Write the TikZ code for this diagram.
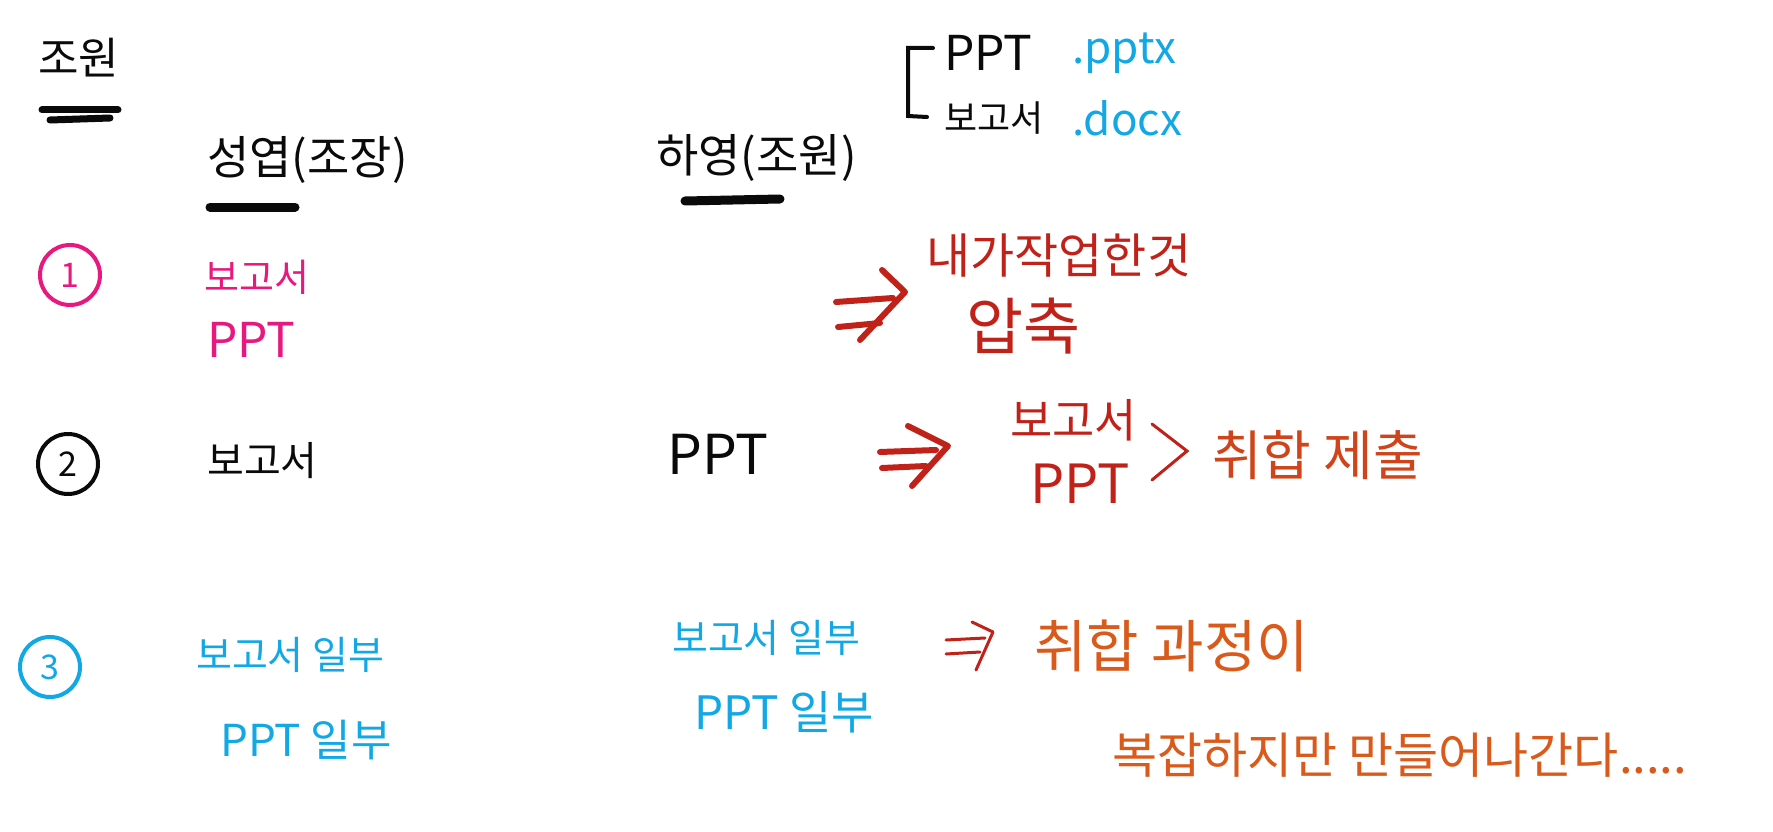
\documentclass[tikz,border=0pt]{standalone}
\usepackage{fontspec}
\setmainfont{Noto Sans CJK KR}
\usetikzlibrary{arrows.meta,calc}
\definecolor{inkblack}{HTML}{0A0A0A}
\definecolor{inkpink}{HTML}{E8197E}
\definecolor{inkred}{HTML}{C0221A}
\definecolor{inkorange}{HTML}{D95A1A}
\definecolor{inkblue}{HTML}{12A8E6}
\tikzset{
  txt/.style={anchor=west, inner sep=0pt, font=\fontsize{#1}{#1}\selectfont},
  numcircle/.style={circle, draw, line width=4pt, minimum size=60pt, inner sep=0pt, font=\fontsize{34}{34}\selectfont},
  uline/.style={line width=7pt, line cap=round, inkblack},
  dblarrow/.style={line width=6pt, line cap=round, line join=round},
  thinarrow/.style={line width=3pt, line cap=round, line join=round},
}
\begin{document}
\begin{tikzpicture}[x=1pt, y=-1pt]
\useasboundingbox[fill=white] (0,0) rectangle (1773,832);

% header
\node[txt=44, inkblack] (title) at (38,58) {조원};
\draw[uline] (42,110) -- (118,110);
\draw[uline] (50,120) -- (110,118);

\node[txt=46, inkblack] (leader) at (207,160) {성엽(조장)};
\draw[uline, line width=9pt] (210,207) -- (295,207);
\node[txt=46, inkblack] (member) at (656,158) {하영(조원)};
\draw[uline, line width=9pt] (685,201) -- (780,199);

% file types
\draw[inkblack, line width=4pt, line cap=round] (933,48) -- (908,48) -- (908,116) -- (927,117);
\node[txt=48, inkblack] (pptlbl) at (944,53) {PPT};
\node[txt=44, inkblue] (pptx) at (1072,53) {.pptx};
\node[txt=36, inkblack] (replbl) at (944,118) {보고서};
\node[txt=44, inkblue] (docx) at (1072,118) {.docx};

% row 1
\node[numcircle, inkpink] (n1) at (70,275) {1};
\node[txt=38, inkpink] (r1a) at (204,277) {보고서};
\node[txt=48, inkpink] (r1b) at (207,340) {PPT};
\coordinate (a1s) at (836,302);
\coordinate (a1e) at (905,292);
\draw[dblarrow, inkred] (a1s) -- (893,298);
\draw[dblarrow, inkred] (838,327) -- (880,323);
\draw[dblarrow, inkred] (882,270) -- (a1e) -- (860,340);
\node[txt=48, inkred] (r1c) at (926,256) {내가작업한것};
\node[txt=62, inkred] (r1d) at (966,326) {압축};

% row 2
\node[numcircle, inkblack] (n2) at (68,464) {2};
\node[txt=40, inkblack] (r2a) at (207,461) {보고서};
\node[txt=55, inkblack] (r2b) at (667,454) {PPT};
\coordinate (a2s) at (880,452);
\coordinate (a2e) at (948,446);
\draw[dblarrow, inkred] (a2s) -- (936,450);
\draw[dblarrow, inkred] (882,468) -- (926,466);
\draw[dblarrow, inkred] (908,426) -- (a2e) -- (912,486);
\node[txt=46, inkred] (r2c) at (1010,420) {보고서};
\node[txt=54, inkred] (r2d) at (1030,484) {PPT};
\draw[inkred, line width=3pt, line cap=round] (1152,424) -- (1187,451) -- (1152,480);
\node[txt=54, inkorange!60!inkred] (r2e) at (1212,455) {취합 제출};

% row 3
\node[numcircle, inkblue] (n3) at (50,667) {3};
\node[txt=39, inkblue] (r3a) at (196,655) {보고서 일부};
\node[txt=44, inkblue] (r3b) at (220,740) {PPT 일부};
\node[txt=39, inkblue] (r3c) at (672,638) {보고서 일부};
\node[txt=46, inkblue] (r3d) at (694,712) {PPT 일부};
\coordinate (a3s) at (946,640);
\coordinate (a3e) at (993,632);
\draw[thinarrow, inkred] (a3s) -- (985,638);
\draw[thinarrow, inkred] (946,654) -- (980,652);
\draw[thinarrow, inkred] (972,622) -- (a3e) -- (976,670);
\node[txt=57, inkorange] (r3e) at (1034,646) {취합 과정이};
\node[txt=49, inkorange] (r3f) at (1112,755) {복잡하지만 만들어나간다.....};

\end{tikzpicture}
\end{document}
